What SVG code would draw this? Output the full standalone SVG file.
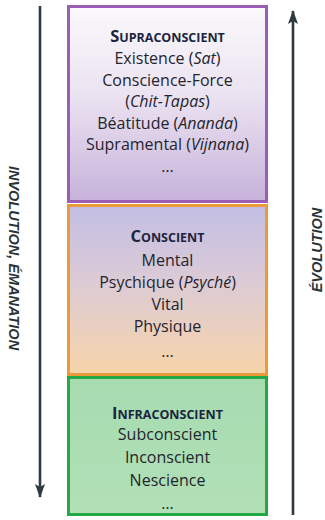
<svg xmlns="http://www.w3.org/2000/svg" width="325" height="520" viewBox="0 0 325 520">
  <defs>
    <linearGradient id="gPurple" x1="0" y1="0" x2="0" y2="1">
      <stop offset="0" stop-color="#fbf9fc"/>
      <stop offset="0.45" stop-color="#ebe3f1"/>
      <stop offset="1" stop-color="#c7b2da"/>
    </linearGradient>
    <linearGradient id="gOrange" x1="0" y1="0" x2="0" y2="1">
      <stop offset="0" stop-color="#c2bee3"/>
      <stop offset="0.45" stop-color="#dccbd6"/>
      <stop offset="1" stop-color="#f7d4a9"/>
    </linearGradient>
    <linearGradient id="gGreen" x1="0" y1="0" x2="0" y2="1">
      <stop offset="0" stop-color="#a6dbb0"/>
      <stop offset="1" stop-color="#b2e0b7"/>
    </linearGradient>
    <marker id="head" viewBox="0 0 14 10" refX="13" refY="5" markerWidth="14" markerHeight="10" markerUnits="userSpaceOnUse" orient="auto">
      <path d="M0,0 L14,5 L0,10 L3,5 Z" fill="#2d3b40"/>
    </marker>
  </defs>
  <style>
    .body { font-family: "Open Sans", "Noto Sans", sans-serif; font-size: 16px; fill: #24242e; text-anchor: middle; }
    .title { font-family: "Open Sans", "Noto Sans", sans-serif; font-weight: bold; font-size: 12.5px; fill: #1c2440; text-anchor: middle; }
    .cap { font-size: 16.5px; }
    .side { font-family: "Liberation Sans", Arial, sans-serif; font-weight: bold; font-style: italic; font-size: 14.5px; fill: #2a3438; text-anchor: middle; }
    .arrow { stroke: #2d3b40; stroke-width: 2.6; fill: none; }
  </style>

  <g id="connectors">
    <line class="arrow" x1="40" y1="6" x2="40" y2="497" marker-end="url(#head)"/>
    <line class="arrow" x1="293" y1="515" x2="293" y2="11" marker-end="url(#head)"/>
  </g>

  <g id="label-involution">
    <text class="side" transform="translate(9,258) rotate(90)">INVOLUTION, ÉMANATION</text>
  </g>
  <g id="label-evolution">
    <text class="side" transform="translate(322,250) rotate(-90)">ÉVOLUTION</text>
  </g>

  <g id="supraconscient">
    <rect x="68.5" y="6.5" width="198" height="195" fill="url(#gPurple)" stroke="#9a5fb4" stroke-width="3"/>
    <text class="title" x="167.5" y="42"><tspan class="cap">S</tspan>UPRACONSCIENT</text>
    <text class="body" x="167.5" y="64">Existence (<tspan font-style="italic">Sat</tspan>)</text>
    <text class="body" x="167.5" y="86">Conscience-Force</text>
    <text class="body" x="167.5" y="107">(<tspan font-style="italic">Chit-Tapas</tspan>)</text>
    <text class="body" x="167.5" y="129">Béatitude (<tspan font-style="italic">Ananda</tspan>)</text>
    <text class="body" x="167.5" y="150">Supramental (<tspan font-style="italic">Vijnana</tspan>)</text>
    <text class="body" x="167.5" y="172">…</text>
  </g>

  <g id="conscient">
    <rect x="68.5" y="205.5" width="198" height="169" fill="url(#gOrange)" stroke="#eb9a3a" stroke-width="3"/>
    <text class="title" x="167.5" y="242"><tspan class="cap">C</tspan>ONSCIENT</text>
    <text class="body" x="167.5" y="266">Mental</text>
    <text class="body" x="167.5" y="288">Psychique (<tspan font-style="italic">Psyché</tspan>)</text>
    <text class="body" x="167.5" y="310">Vital</text>
    <text class="body" x="167.5" y="332">Physique</text>
    <text class="body" x="167.5" y="357">…</text>
  </g>

  <g id="infraconscient">
    <rect x="68.5" y="377.5" width="198" height="137" fill="url(#gGreen)" stroke="#22a845" stroke-width="3"/>
    <text class="title" x="167.5" y="419"><tspan class="cap">I</tspan>NFRACONSCIENT</text>
    <text class="body" x="167.5" y="440">Subconscient</text>
    <text class="body" x="167.5" y="463">Inconscient</text>
    <text class="body" x="167.5" y="486">Nescience</text>
    <text class="body" x="167.5" y="509">…</text>
  </g>
</svg>
